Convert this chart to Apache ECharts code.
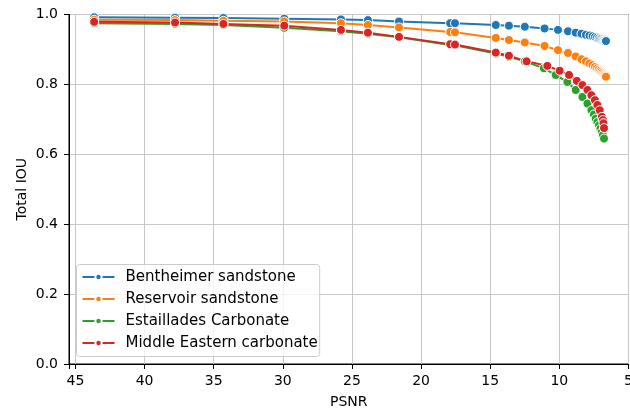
<!DOCTYPE html>
<html><head><meta charset="utf-8">
<script src="https://cdn.jsdelivr.net/npm/echarts@6/dist/echarts.min.js"></script>
<style>html,body{margin:0;padding:0;background:#fff}#c{width:630px;height:410px}</style>
</head><body><div id="c"></div>
<script>
const seriesNames = ['Bentheimer sandstone', 'Reservoir sandstone', 'Estaillades Carbonate', 'Middle Eastern carbonate'];
const xTicks = [5, 10, 15, 20, 25, 30, 35, 40, 45];
const yTicks = [0.0, 0.2, 0.4, 0.6, 0.8, 1.0];

const bentheimerX = [43.65, 37.8, 34.3, 29.9, 25.8, 23.85, 21.6, 17.9, 17.55, 14.6, 13.65, 12.5, 11.07, 10.1, 9.38, 8.82, 8.4, 8.08, 7.82, 7.6, 7.42, 7.27, 7.15, 7.05, 6.96, 6.88, 6.81, 6.75, 6.7, 6.66, 6.63];
const bentheimerY = [0.992, 0.991, 0.990, 0.988, 0.986, 0.984, 0.980, 0.975, 0.975, 0.970, 0.968, 0.965, 0.960, 0.956, 0.952, 0.948, 0.945, 0.942, 0.940, 0.938, 0.936, 0.934, 0.932, 0.931, 0.930, 0.929, 0.928, 0.927, 0.926, 0.925, 0.924];

const reservoirX = [43.65, 37.8, 34.3, 29.9, 25.8, 23.85, 21.6, 17.9, 17.55, 14.6, 13.65, 12.5, 11.07, 10.1, 9.38, 8.82, 8.4, 8.08, 7.82, 7.6, 7.42, 7.27, 7.15, 7.05, 6.96, 6.88, 6.81, 6.75, 6.7, 6.66, 6.63];
const reservoirY = [0.985, 0.984, 0.982, 0.980, 0.975, 0.970, 0.963, 0.950, 0.949, 0.933, 0.927, 0.920, 0.910, 0.898, 0.890, 0.880, 0.872, 0.866, 0.860, 0.855, 0.850, 0.846, 0.842, 0.839, 0.836, 0.833, 0.830, 0.828, 0.826, 0.824, 0.822];

const estailladesX = [43.65, 37.8, 34.3, 29.9, 25.8, 23.85, 21.6, 17.9, 17.55, 14.6, 13.65, 12.5, 11.12, 10.27, 9.42, 8.82, 8.33, 7.97, 7.68, 7.5, 7.37, 7.25, 7.13, 7.03, 6.93, 6.85, 6.77];
const estailladesY = [0.975, 0.973, 0.970, 0.962, 0.952, 0.945, 0.935, 0.913, 0.912, 0.888, 0.879, 0.866, 0.846, 0.827, 0.807, 0.784, 0.764, 0.745, 0.726, 0.714, 0.702, 0.692, 0.683, 0.673, 0.664, 0.655, 0.645];

const middleEastX = [43.65, 37.8, 34.3, 29.9, 25.8, 23.85, 21.6, 17.9, 17.55, 14.6, 13.65, 12.37, 10.87, 9.98, 9.30, 8.74, 8.33, 7.97, 7.68, 7.43, 7.25, 7.08, 6.93, 6.85, 6.81, 6.77];
const middleEastY = [0.979, 0.977, 0.973, 0.968, 0.956, 0.948, 0.936, 0.915, 0.914, 0.891, 0.882, 0.866, 0.853, 0.839, 0.827, 0.810, 0.798, 0.784, 0.769, 0.755, 0.741, 0.726, 0.707, 0.698, 0.689, 0.675];

const colors = ['#1f77b4', '#ff7f0e', '#2ca02c', '#d62728'];
const xs = [bentheimerX, reservoirX, estailladesX, middleEastX];
const ys = [bentheimerY, reservoirY, estailladesY, middleEastY];

const font = 'DejaVu Sans';
const chart = echarts.init(document.getElementById('c'), null, {renderer: 'canvas'});
chart.setOption({
  animation: false,
  color: colors,
  grid: {left: 69, right: 1.5, top: 14.5, bottom: 46, outerBoundsMode: 'none', containLabel: false,
    show: true, borderColor: '#000', borderWidth: 1, backgroundColor: 'transparent'},
  legend: {
    left: 76.5, top: 264.5, orient: 'vertical',
    data: seriesNames,
    itemWidth: 32, itemHeight: 8, itemGap: 7,
    padding: [5, 2, 6, 5],
    borderColor: '#ccc', borderWidth: 1, borderRadius: 3,
    backgroundColor: 'rgba(255,255,255,0.8)',
    textStyle: {fontFamily: font, fontSize: 15, color: '#000', padding: [0, 0, 0, 6]}
  },
  xAxis: {
    type: 'value', inverse: true, min: 5, max: 45.47, interval: 5,
    name: 'PSNR', nameLocation: 'middle', nameGap: 31,
    nameTextStyle: {fontFamily: font, fontSize: 14, color: '#000'},
    axisLine: {show: true, onZero: false, lineStyle: {color: '#000', width: 1}},
    axisTick: {show: true, length: 5, lineStyle: {color: '#000'}},
    axisLabel: {fontFamily: font, fontSize: 14, color: '#000', margin: 10, hideOverlap: false,
      formatter: v => xTicks.indexOf(Math.round(v * 1000) / 1000) >= 0 ? String(v) : ''},
    splitLine: {show: true, lineStyle: {color: '#c8c8c8', width: 1}}
  },
  yAxis: {
    type: 'value', min: 0, max: 1, interval: 0.2,
    name: 'Total IOU', nameLocation: 'middle', nameGap: 40, nameMoveOverlap: false,
    nameTextStyle: {fontFamily: font, fontSize: 14, color: '#000'},
    axisLine: {show: true, lineStyle: {color: '#000', width: 1}},
    axisTick: {show: true, length: 5, lineStyle: {color: '#000'}},
    axisLabel: {fontFamily: font, fontSize: 14, color: '#000', margin: 11,
      formatter: v => yTicks.some(t => Math.abs(t - v) < 1e-6) ? v.toFixed(1) : ''},
    splitLine: {show: true, lineStyle: {color: '#c8c8c8', width: 1}}
  },
  series: seriesNames.map((n, i) => ({
    name: n, type: 'line',
    data: xs[i].map((x, j) => [x, ys[i][j]]),
    symbol: 'circle', symbolSize: 9, showAllSymbol: true,
    lineStyle: {width: 2, color: colors[i]},
    itemStyle: {color: colors[i], borderColor: '#fff', borderWidth: 1},
    emphasis: {disabled: true}
  }))
});
</script></body></html>
